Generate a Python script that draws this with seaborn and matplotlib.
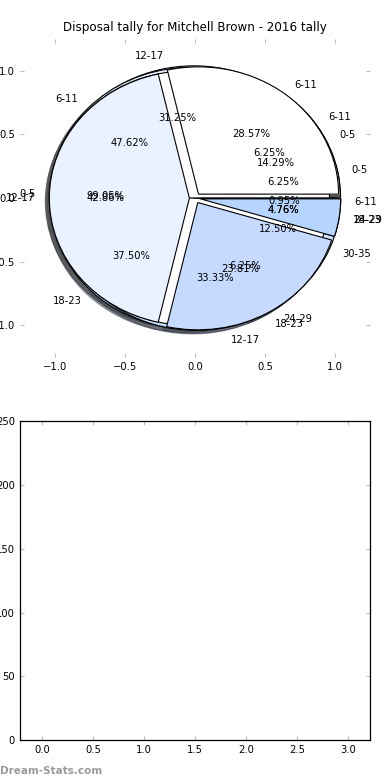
import matplotlib
matplotlib.use("Agg")
import matplotlib.pyplot as plt
import seaborn as sns

# ── Data ───────────────────────────────────────────────────────────────────────
TITLE = "Disposal tally for Mitchell Brown - 2016 tally"

# four tallies stacked on the same axes, in the order they get drawn
LABELS_C = ["0-5", "6-11", "12-17", "18-23", "24-29", "30-35"]
VALUES_C = [1, 1, 5, 6, 1, 2]
LABELS_B = ["0-5", "6-11", "12-17", "18-23"]
VALUES_B = [3, 10, 7, 1]
LABELS_X = ["0-5", "6-11"]
VALUES_X = [104, 1]
LABELS_A = ["6-11", "12-17", "18-23", "24-29"]
VALUES_A = [6, 9, 5, 1]

PIE_TICKS = [-1.0, -0.5, 0.0, 0.5, 1.0]
BAR_XTICKS = [0.0, 0.5, 1.0, 1.5, 2.0, 2.5, 3.0]
BAR_YTICKS = [0, 50, 100, 150, 200, 250]

WEDGE_COLOURS = ["#ffffff", "#eaf1ff", "#c6d9ff", "#b5d5ff", "#d6f6ff", "#cde4ff"]

# ── Style ──────────────────────────────────────────────────────────────────────
sns.set_style("white")
plt.rcParams.update({
    "font.family": ["DejaVu Sans"],
    "font.size": 7.2,
    "text.color": "black",
    "axes.titlecolor": "black",
    "xtick.direction": "in",
    "ytick.direction": "in",
    "xtick.color": "#bbbbbb",
    "ytick.color": "#bbbbbb",
    "xtick.labelcolor": "black",
    "ytick.labelcolor": "black",
    "xtick.major.size": 3,
    "ytick.major.size": 3,
    "xtick.labelsize": 7.2,
    "ytick.labelsize": 7.2,
})
palette = sns.color_palette(WEDGE_COLOURS)

fig = plt.figure(figsize=(3.9, 7.8), dpi=100)

# -- Pie panel -----------------------------------------------------------------
ax = fig.add_axes([0.051, 0.542, 0.898, 0.408])
for labels, values in [(LABELS_C, VALUES_C), (LABELS_B, VALUES_B),
                       (LABELS_X, VALUES_X), (LABELS_A, VALUES_A)]:
    ax.pie(values, labels=labels, colors=palette, autopct="%.2f%%",
           explode=[0.04] * len(values), shadow=True,
           textprops={"fontsize": 7.2, "color": "black"},
           wedgeprops={"linewidth": 0.8, "edgecolor": "black"})

ax.set_aspect("auto")
ax.set_xlim(-1.25, 1.25)
ax.set_ylim(-1.25, 1.25)
ax.set_xticks(PIE_TICKS)
ax.set_yticks(PIE_TICKS)
ax.set_frame_on(False)
ax.tick_params(top=True, right=True, bottom=True, left=True)
ax.set_title(TITLE, fontsize=8.6, pad=6, color="black")

# -- Empty bar panel -----------------------------------------------------------
ax2 = fig.add_axes([0.051, 0.051, 0.898, 0.409])
ax2.set_xlim(-0.22, 3.22)
ax2.set_ylim(0, 250)
ax2.set_xticks(BAR_XTICKS)
ax2.set_yticks(BAR_YTICKS)
ax2.tick_params(top=True, right=True, bottom=True, left=True)
for s in ax2.spines.values():
    s.set_color("black")
    s.set_linewidth(0.9)

fig.text(0.0, 0.008, "Dream-Stats.com", fontsize=7.5, fontweight="bold", color="#9a9a9a")

fig.savefig("out.png", dpi=100)
